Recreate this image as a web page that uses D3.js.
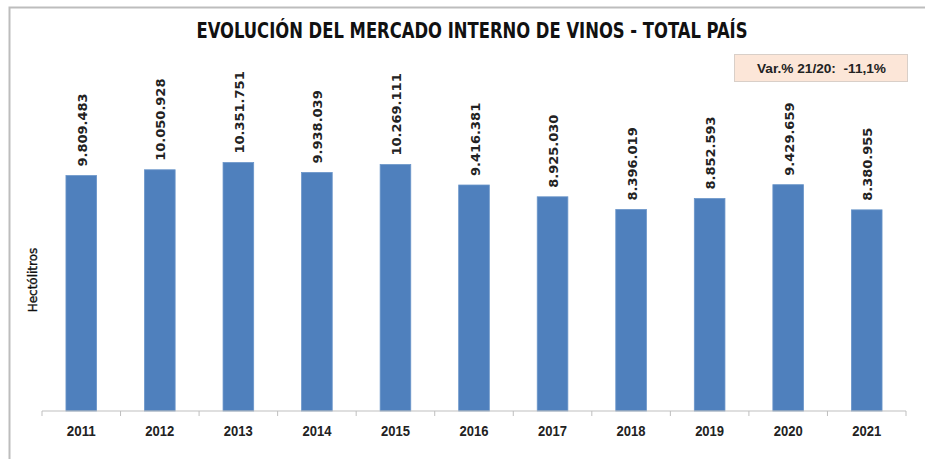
<!DOCTYPE html>
<html>
<head>
<meta charset="utf-8">
<script src="https://cdnjs.cloudflare.com/ajax/libs/d3/7.8.5/d3.min.js"></script>
<style>
  body { margin: 0; background: #fff; }
  svg { display: block; }
</style>
</head>
<body>
<svg id="chart" width="925" height="459"></svg>
<script>
// data
var years = ["2011", "2012", "2013", "2014", "2015", "2016", "2017", "2018", "2019", "2020", "2021"];
var hectolitros = [9809483, 10050928, 10351751, 9938039, 10269111, 9416381, 8925030, 8396019, 8852593, 9429659, 8380955];
var valueLabels = ["9.809.483", "10.050.928", "10.351.751", "9.938.039", "10.269.111", "9.416.381", "8.925.030", "8.396.019", "8.852.593", "9.429.659", "8.380.955"];
var titleText = "EVOLUCIÓN DEL MERCADO INTERNO DE VINOS - TOTAL PAÍS";
var varText = "Var.% 21/20:  -11,1%";
var yTitle = "Hectólitros";

var narrow = "'DejaVu Sans Condensed', sans-serif";

var svg = d3.select("#chart");

// outer frame of the pasted chart
svg.append("path")
  .attr("d", "M9.5,459 V7.5 H925")
  .attr("fill", "none")
  .attr("stroke", "#bdbdbd")
  .attr("stroke-width", 2);

var x = d3.scaleBand().domain(years).range([42, 906]).paddingInner(0.61).paddingOuter(0.305);
var y = d3.scaleLinear().domain([0, 12000000]).range([411, 123]);

svg.append("text")
  .attr("x", 472).attr("y", 38)
  .attr("text-anchor", "middle")
  .attr("font-family", narrow)
  .attr("font-weight", "bold")
  .attr("font-size", 22)
  .attr("textLength", 551)
  .attr("lengthAdjust", "spacingAndGlyphs")
  .attr("fill", "#111")
  .text(titleText);

// variation box
svg.append("rect")
  .attr("x", 734.5).attr("y", 54.5).attr("width", 173).attr("height", 27)
  .attr("fill", "#fce6d8")
  .attr("stroke", "#d9cfc8");
svg.append("text")
  .attr("x", 757).attr("y", 72.5)
  .attr("font-family", "'Liberation Sans', Arial, sans-serif")
  .attr("font-weight", "bold")
  .attr("font-size", 13)
  .attr("fill", "#222")
  .attr("textLength", 129)
  .attr("lengthAdjust", "spacingAndGlyphs")
  .style("white-space", "pre")
  .text(varText);

svg.append("text")
  .attr("transform", "translate(36.5,280) rotate(-90)")
  .attr("text-anchor", "middle")
  .attr("font-family", "'DejaVu Sans', sans-serif")
  .attr("font-size", 12)
  .attr("fill", "#111")
  .attr("stroke", "#111")
  .attr("stroke-width", 0.35)
  .text(yTitle);

svg.selectAll("rect.bar")
  .data(hectolitros)
  .enter().append("rect")
  .attr("class", "bar")
  .attr("x", (d, i) => x(years[i]))
  .attr("width", x.bandwidth())
  .attr("y", d => y(d))
  .attr("height", d => y(0) - y(d))
  .attr("fill", "#4f80bd")
  .attr("stroke", "#6a95c9")
  .attr("stroke-width", 0.8);

svg.selectAll("text.val")
  .data(hectolitros)
  .enter().append("text")
  .attr("class", "val")
  .attr("transform", (d, i) => "translate(" + (x(years[i]) + x.bandwidth() / 2 + 5.5) + "," + (y(d) - 9) + ") rotate(-90)")
  .attr("font-family", "'DejaVu Sans', sans-serif")
  .attr("font-weight", "bold")
  .attr("font-size", 13)
  .attr("fill", "#222")
  .text((d, i) => valueLabels[i]);

// x axis with ticks between categories
var axisG = svg.append("g").attr("transform", "translate(0,411)");
axisG.append("line")
  .attr("x1", 42).attr("x2", 906)
  .attr("stroke", "#bfbfbf");
axisG.selectAll("line.tk")
  .data(d3.range(years.length + 1))
  .enter().append("line")
  .attr("class", "tk")
  .attr("x1", i => 42 + i * x.step())
  .attr("x2", i => 42 + i * x.step())
  .attr("y1", 0).attr("y2", 5)
  .attr("stroke", "#bfbfbf");
axisG.selectAll("text")
  .data(years)
  .enter().append("text")
  .attr("x", d => x(d) + x.bandwidth() / 2 - 14.5)
  .attr("y", 25)
  .attr("font-family", "'Liberation Sans', Arial, sans-serif")
  .attr("font-weight", "bold")
  .attr("font-size", 14)
  .attr("textLength", 29)
  .attr("lengthAdjust", "spacingAndGlyphs")
  .attr("fill", "#222")
  .text(d => d);
</script>
</body>
</html>
